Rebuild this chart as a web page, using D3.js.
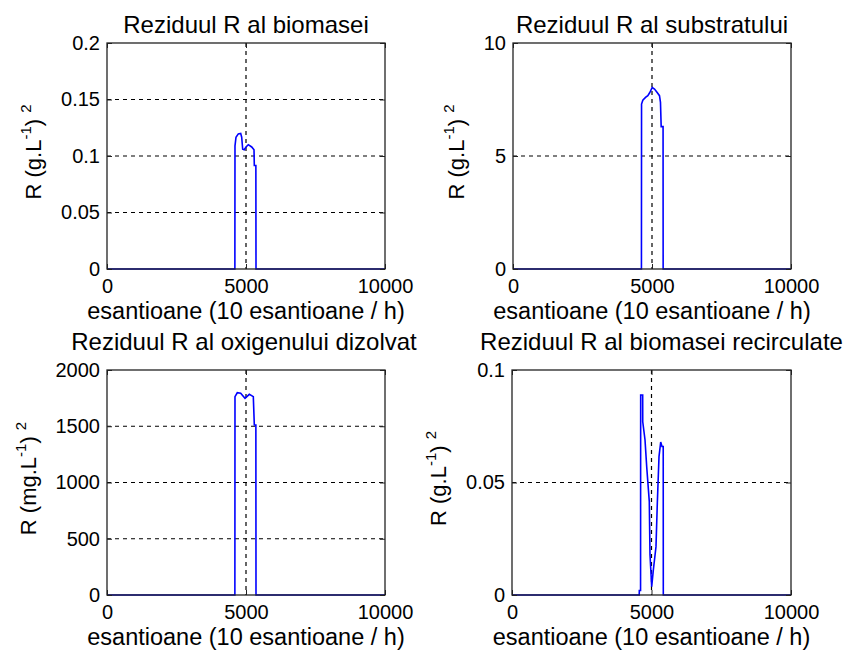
<!DOCTYPE html>
<html><head><meta charset="utf-8">
<script src="https://cdn.jsdelivr.net/npm/d3@7"></script>
<style>body{margin:0;background:#fff}svg{display:block}</style>
</head><body>
<script>
// ---- data ----
const titles = ["Reziduul R al biomasei", "Reziduul R al substratului", "Reziduul R al oxigenului dizolvat", "Reziduul R al biomasei recirculate"];
const yUnits = ["g.L", "g.L", "mg.L", "g.L"];
const xLabel = "esantioane (10 esantioane / h)";
const xTicks = [0, 5000, 10000];
const xTickLabels = ["0", "5000", "10000"];
const xMax = 10000;

const yTicksBio = [0, 0.05, 0.1, 0.15, 0.2];
const yTickLabelsBio = ["0", "0.05", "0.1", "0.15", "0.2"];
const yTicksSub = [0, 5, 10];
const yTickLabelsSub = ["0", "5", "10"];
const yTicksOxy = [0, 500, 1000, 1500, 2000];
const yTickLabelsOxy = ["0", "500", "1000", "1500", "2000"];
const yTicksRec = [0, 0.05, 0.1];
const yTickLabelsRec = ["0", "0.05", "0.1"];

const bioX = [0, 4600, 4604, 4640, 4723, 4809, 4845, 4881, 4939, 5000, 5083, 5205, 5288, 5299, 5355, 5360, 10000];
const bioY = [0, 0, 0.109, 0.1166, 0.1196, 0.120, 0.1166, 0.106, 0.1055, 0.108, 0.110, 0.108, 0.1055, 0.0916, 0.0916, 0, 0];

const subX = [0, 4620, 4624, 4670, 4767, 4850, 4921, 5007, 5090, 5186, 5269, 5305, 5330, 5398, 5401, 10000];
const subY = [0, 0, 7.30, 7.47, 7.59, 7.67, 7.81, 8.03, 7.96, 7.81, 7.67, 7.37, 6.30, 6.30, 0, 0];

const oxyX = [0, 4600, 4604, 4687, 4809, 4964, 5119, 5263, 5299, 5355, 5360, 10000];
const oxyY = [0, 0, 1763, 1798, 1793, 1748, 1784, 1763, 1511, 1511, 0, 0];

const recX = [0, 4560, 4563, 4608, 4612, 4684, 4686, 4767, 4828, 4921, 4946, 5007, 5065, 5161, 5209, 5269, 5330, 5376, 5420, 5423, 10000];
const recY = [0, 0, 0.002, 0.002, 0.0889, 0.0889, 0.077, 0.069, 0.057, 0.0415, 0.018, 0.0037, 0.011, 0.0215, 0.041, 0.0615, 0.068, 0.066, 0.066, 0, 0];

// ---- layout ----
const W = 848, H = 650;
const FONT = "'Liberation Sans', Arial, Helvetica, sans-serif";
const panels = [
  {box: {l: 107, r: 385, t: 43, b: 269}, titleY: 33, titleDx: 0, yMax: 0.2, ticks: yTicksBio, labels: yTickLabelsBio, xs: bioX, ys: bioY},
  {box: {l: 513, r: 791, t: 43, b: 269}, titleY: 33, titleDx: 0, yMax: 10, ticks: yTicksSub, labels: yTickLabelsSub, xs: subX, ys: subY},
  {box: {l: 107, r: 385, t: 370, b: 595}, titleY: 350, titleDx: -2, yMax: 2000, ticks: yTicksOxy, labels: yTickLabelsOxy, xs: oxyX, ys: oxyY},
  {box: {l: 512, r: 791, t: 370, b: 595}, titleY: 350, titleDx: 10, yMax: 0.1, ticks: yTicksRec, labels: yTickLabelsRec, xs: recX, ys: recY}
];

const svg = d3.select("body").append("svg").attr("width", W).attr("height", H)
  .style("font-family", FONT);

panels.forEach((p, i) => {
  const b = p.box;
  const x = d3.scaleLinear().domain([0, xMax]).range([b.l, b.r]);
  const y = d3.scaleLinear().domain([0, p.yMax]).range([b.b, b.t]);
  const g = svg.append("g");

  // grid
  g.selectAll(".hg").data(p.ticks.filter(v => v > 0 && v < p.yMax)).enter().append("line")
    .attr("x1", b.l).attr("x2", b.r).attr("y1", d => y(d)).attr("y2", d => y(d))
    .attr("stroke", "#000").attr("stroke-width", 1.2).attr("stroke-dasharray", "4,4");
  g.selectAll(".vg").data(xTicks.filter(v => v > 0 && v < xMax)).enter().append("line")
    .attr("x1", d => x(d)).attr("x2", d => x(d)).attr("y1", b.t).attr("y2", b.b)
    .attr("stroke", "#000").attr("stroke-width", 1.2).attr("stroke-dasharray", "4,4");

  // data line
  const pts = p.xs.map((v, k) => [v, p.ys[k]]);
  g.append("path").datum(pts)
    .attr("d", d3.line().x(d => x(d[0])).y(d => y(d[1])))
    .attr("fill", "none").attr("stroke", "#0000ff").attr("stroke-width", 1.6);

  // axes (ticks inward) with labels
  const yAxis = d3.axisLeft(y).tickValues(p.ticks).tickFormat((d, k) => p.labels[k])
    .tickSizeInner(-5).tickSizeOuter(0).tickPadding(7);
  const ya = g.append("g").attr("transform", `translate(${b.l},0)`).call(yAxis);
  ya.select(".domain").remove();
  ya.selectAll("text").attr("font-size", 20).attr("font-family", FONT).attr("fill", "#000");
  ya.selectAll("line").attr("stroke", "#222");

  const yAxisR = d3.axisRight(y).tickValues(p.ticks).tickFormat("").tickSizeInner(-5).tickSizeOuter(0);
  const yr = g.append("g").attr("transform", `translate(${b.r},0)`).call(yAxisR);
  yr.select(".domain").remove(); yr.selectAll("line").attr("stroke", "#222");

  const xAxis = d3.axisBottom(x).tickValues(xTicks).tickFormat((d, k) => xTickLabels[k])
    .tickSizeInner(-5).tickSizeOuter(0).tickPadding(10);
  const xa = g.append("g").attr("transform", `translate(0,${b.b})`).call(xAxis);
  xa.select(".domain").remove();
  xa.selectAll("text").attr("font-size", 20).attr("font-family", FONT).attr("fill", "#000");
  xa.selectAll("line").attr("stroke", "#222");

  const xAxisT = d3.axisTop(x).tickValues(xTicks).tickFormat("").tickSizeInner(-5).tickSizeOuter(0);
  const xt = g.append("g").attr("transform", `translate(0,${b.t})`).call(xAxisT);
  xt.select(".domain").remove(); xt.selectAll("line").attr("stroke", "#222");

  // frame
  g.append("rect").attr("x", b.l).attr("y", b.t).attr("width", b.r - b.l).attr("height", b.b - b.t)
    .attr("fill", "none").attr("stroke", "#222").attr("stroke-width", 1.3);

  // title
  g.append("text").attr("x", (b.l + b.r) / 2 + p.titleDx).attr("y", p.titleY).attr("text-anchor", "middle")
    .attr("font-size", 24).attr("fill", "#000").text(titles[i]);

  // x label
  g.append("text").attr("x", (b.l + b.r) / 2).attr("y", b.b + 50).attr("text-anchor", "middle")
    .attr("font-size", 23.5).attr("fill", "#000").text(xLabel);

  // y label
  const tickLeft = ya.node().getBBox().x + b.l;
  const yl = g.append("text").attr("text-anchor", "middle").attr("font-size", 22).attr("fill", "#000");
  yl.append("tspan").text("R (" + yUnits[i]);
  yl.append("tspan").attr("font-size", 15).attr("dy", -10).text("-1");
  yl.append("tspan").attr("dy", 10).text(") ");
  yl.append("tspan").attr("font-size", 15).attr("dy", -10).text("2");
  const bb = yl.node().getBBox();
  const tx = tickLeft - 15 - (bb.y + bb.height);
  const cy = (b.t + b.b) / 2 - 4;
  yl.attr("transform", `translate(${tx},${cy}) rotate(-90)`);
});
</script>
</body></html>
